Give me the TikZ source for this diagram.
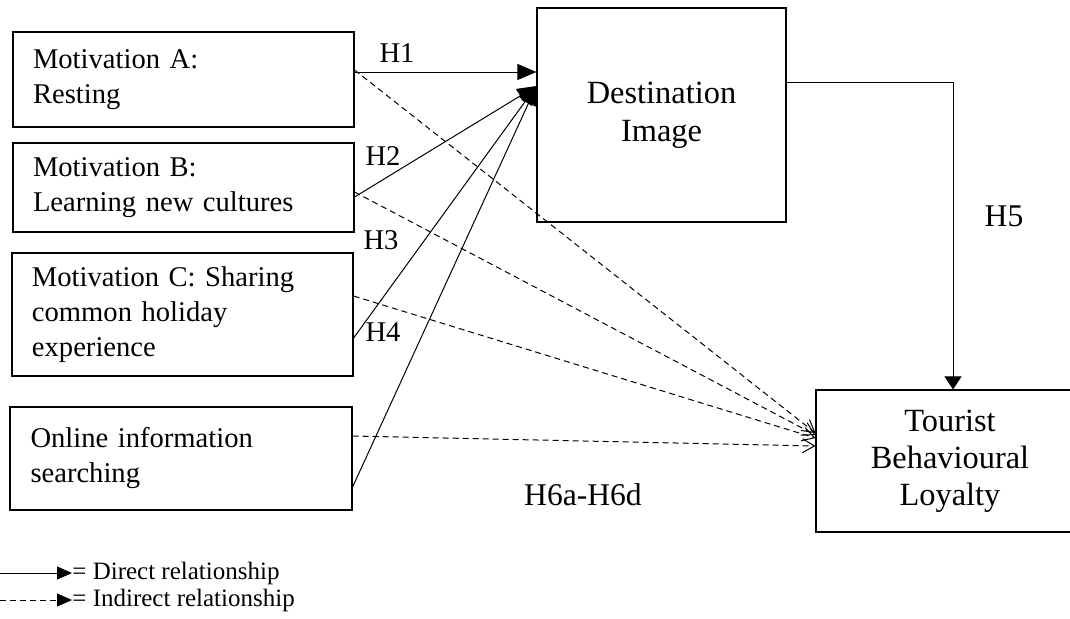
\documentclass[tikz,border=0pt]{standalone}
\usepackage{fontspec}
\setmainfont{Liberation Serif}
\usetikzlibrary{arrows.meta,positioning}

\tikzset{
  motbox/.style={draw, line width=0.6pt, minimum width=170.5pt, text width=150.5pt, align=left, inner sep=0pt, font=\fontsize{14.3}{17.5}\selectfont},
  outbox/.style={draw, line width=0.6pt, align=center, inner sep=0pt, font=\fontsize{16.2}{19}\selectfont},
  hyp/.style={font=\fontsize{14.3}{17}\selectfont, inner sep=0pt},
  direct/.style={line width=0.5pt, -{Triangle[length=9.5pt,width=8pt]}},
  indirect/.style={line width=0.5pt, dash pattern=on 3pt off 2pt, -{Straight Barb[length=6pt,width=7pt]}},
  legtext/.style={anchor=west, inner sep=0pt, font=\fontsize{12.5}{14}\selectfont}
}

\begin{document}
\begin{tikzpicture}[x=0.5pt,y=-0.5pt]
\useasboundingbox (0,0) rectangle (1070,618);

\node[motbox, minimum height=47.5pt] (ma) at (183.5,79.5) {Motivation A:\\Resting};
\node[motbox, minimum height=44.5pt] (mb) at (183.5,187.5) {Motivation B:\\Learning new cultures};
\node[motbox, minimum height=61.5pt] (mc) at (182.5,314.5) {Motivation C: Sharing\\common holiday\\experience};
\node[motbox, minimum height=51.5pt, minimum width=171pt] (md) at (181,458.5) {Online information\\searching};

\node[outbox, minimum width=124.5pt, minimum height=107pt] (di) at (661.5,115) {Destination\\Image};
\node[outbox, minimum width=134pt, minimum height=71pt, font=\fontsize{16.2}{18.5}\selectfont] (tbl) at (950,461) {Tourist\\Behavioural\\Loyalty};

\draw[direct] ([yshift=3.75pt]ma.east) -- ([yshift=21.5pt]di.west);
\draw[direct] ([yshift=-4.75pt]mb.east) -- ([yshift=14.5pt]di.west);
\draw[direct] ([yshift=-11.75pt]mc.east) -- ([yshift=14.5pt]di.west);
\draw[direct] ([yshift=-14.25pt]md.east) -- ([yshift=14.5pt]di.west);

\draw[indirect] ([yshift=4.75pt]ma.east) -- ([yshift=14pt]tbl.west);
\draw[indirect] ([yshift=-2.25pt]mb.east) -- ([yshift=13pt]tbl.west);
\draw[indirect] ([yshift=9.25pt]mc.east) -- ([yshift=11.5pt]tbl.west);
\draw[indirect] ([yshift=11.25pt]md.east) -- ([yshift=7.5pt]tbl.west);

\draw[line width=0.5pt, -{Triangle[length=6.5pt,width=8.5pt]}] ([yshift=16.5pt]di.east) -| ([xshift=1.5pt]tbl.north);

\node[hyp] (h1) at (397,53) {H1};
\node[hyp] (h2) at (383,156) {H2};
\node[hyp] (h3) at (381,240) {H3};
\node[hyp] (h4) at (383,332) {H4};
\node[hyp, font=\fontsize{15.8}{18}\selectfont] (h5) at (1004,216) {H5};
\node[hyp, font=\fontsize{15.8}{18}\selectfont] (h6) at (583,495) {H6a-H6d};

\coordinate (ls1) at (0,573);
\coordinate (ls2) at (0,600);
\node[legtext] (ld1) at (72,573) {= Direct relationship};
\node[legtext] (ld2) at (72,600) {= Indirect relationship};
\draw[line width=0.5pt, -{Triangle[length=7.5pt,width=6.5pt]}] (ls1) -- (ld1.west);
\draw[line width=0.5pt, dash pattern=on 3pt off 2pt, -{Triangle[length=7.5pt,width=6.5pt]}] (ls2) -- (ld2.west);
\end{tikzpicture}
\end{document}
